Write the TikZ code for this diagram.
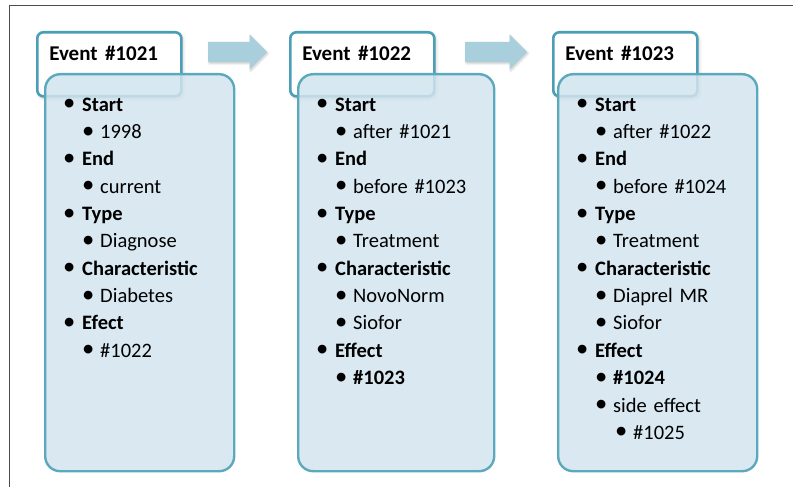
\documentclass[tikz,border=0pt]{standalone}
\usepackage{fontspec}
\setmainfont{Carlito}
\usetikzlibrary{positioning,shapes.arrows,shadows.blur}

\definecolor{evtline}{HTML}{4A9FB7}
\definecolor{evtfill}{HTML}{D2E4EE}
\definecolor{evtarrow}{HTML}{A9CEDC}

% list lines inside the event boxes
\newcommand{\evtdot}{\raisebox{0.5pt}{\scalebox{1.2}{\textbullet}}}
\newcommand{\evtkey}[1]{\makebox[17pt][l]{\hspace{-2pt}\evtdot}\textbf{#1}}
\newcommand{\evtval}[1]{\hspace*{17pt}\makebox[18pt][l]{\evtdot}#1}
\newcommand{\evtsub}[1]{\hspace*{37pt}\makebox[18pt][l]{\evtdot}#1}

\begin{document}
\begin{tikzpicture}[
    x=1pt, y=1pt,
    % Event title
    title box/.style={
        draw=evtline,
        line width=2.6pt,
        fill=white,
        rounded corners=6pt,
        anchor=north west,
        align=left,
        text width=120pt,
        inner xsep=12pt,
        inner ysep=0pt,
        text height=28pt,
        text depth=36pt,
        blur shadow={shadow xshift=1.5pt, shadow yshift=-2pt, shadow blur radius=3pt, shadow opacity=25},
        font=\fontsize{21}{25}\selectfont\bfseries
    },
    % Event details
    content box/.style={
        draw=evtline!90,
        line width=2.4pt,
        fill=evtfill,
        fill opacity=0.85,
        text opacity=1,
        rounded corners=15pt,
        anchor=north west,
        align=left,
        inner xsep=20pt,
        inner ysep=10pt,
        text height=27pt,
        text depth=350pt,
        font=\fontsize{20.5}{27.35}\selectfont
    },
    % Block arrow
    flow arrow/.style={
        single arrow,
        draw=none,
        fill=evtarrow,
        anchor=west,
        inner xsep=0pt,
        inner ysep=10pt,
        single arrow head extend=7.5pt,
        blur shadow={shadow xshift=1pt, shadow yshift=-1.5pt, shadow blur radius=2pt, shadow opacity=20}
    }
]
\useasboundingbox (0,0) rectangle (793,-487);

% Frame
\draw[gray!60!black, line width=0.8pt] (9,-487) -- (9,-5) -- (793,-5);

% Titles
\node[title box] (title1) at (36,-31) {Event\hspace{0.35em}\#1021};
\node[title box] (title2) at (289,-31) {Event\hspace{0.35em}\#1022};
\node[title box] (title3) at (552,-31) {Event\hspace{0.35em}\#1023};

% Arrows
\node[flow arrow, minimum height=59pt] (arrow1) at (208,-52) {};
\node[flow arrow, minimum height=62pt] (arrow2) at (465,-52) {};

% Details
\node[content box, text width=149pt] (details1) at (44,-73) {%
    \evtkey{Start}\\ \evtval{1998}\\
    \evtkey{End}\\ \evtval{current}\\
    \evtkey{Type}\\ \evtval{Diagnose}\\
    \evtkey{Characteristic}\\ \evtval{Diabetes}\\
    \evtkey{Efect}\\ \evtval{\#1022}};
\node[content box, text width=156pt] (details2) at (297,-73) {%
    \evtkey{Start}\\ \evtval{after \#1021}\\
    \evtkey{End}\\ \evtval{before \#1023}\\
    \evtkey{Type}\\ \evtval{Treatment}\\
    \evtkey{Characteristic}\\ \evtval{NovoNorm}\\ \evtval{Siofor}\\
    \evtkey{Effect}\\ \evtval{\textbf{\#1023}}};
\node[content box, text width=159pt] (details3) at (557,-73) {%
    \evtkey{Start}\\ \evtval{after \#1022}\\
    \evtkey{End}\\ \evtval{before \#1024}\\
    \evtkey{Type}\\ \evtval{Treatment}\\
    \evtkey{Characteristic}\\ \evtval{Diaprel MR}\\ \evtval{Siofor}\\
    \evtkey{Effect}\\ \evtval{\textbf{\#1024}}\\ \evtval{side effect}\\
    \evtsub{\#1025}};

\end{tikzpicture}
\end{document}
